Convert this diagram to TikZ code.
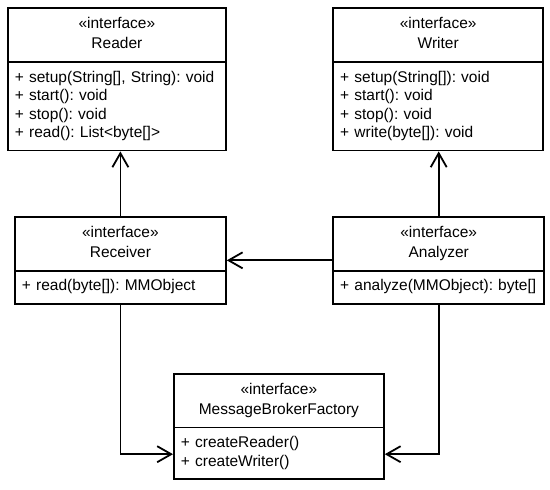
\documentclass[tikz,border=0pt]{standalone}
\usepackage{fontspec}
\setmainfont{Liberation Sans}
\usepackage{xcolor}
\usepackage{tikz}
\usetikzlibrary{shapes.multipart, arrows.meta, positioning}

\newcommand{\stereo}[1]{\centering\strut«interface»\\[2pt]#1\strut\par}

\begin{document}
\begin{tikzpicture}[>={Straight Barb[length=14pt, width=16pt]}, line width=1.8pt,
        iface/.style={rectangle split, rectangle split parts=2, draw,
            inner xsep=7pt, inner ysep=6.5pt, font=\fontsize{15.5}{18.5}\selectfont\frenchspacing},
        elbow/.style={to path={|- (\tikztotarget)}}]
        \useasboundingbox (0,0) rectangle (550pt,-490pt);

        \node[iface, text width=204pt, anchor=north west] (reader) at (7pt,-7pt)
            {\stereo{Reader}
             \nodepart{two}\raggedright\strut+ setup(String[], String): void\\+ start(): void\\+ stop(): void\\+ read(): List<byte[]>\strut};
        \node[iface, text width=196pt] (writer) [right=105.5pt of reader]
            {\stereo{Writer}
             \nodepart{two}\raggedright\strut+ setup(String[]): void\\+ start(): void\\+ stop(): void\\+ write(byte[]): void\strut};

        \node[iface, text width=197pt] (receiver) [below right=64.5pt and 7pt of reader.south west]
            {\stereo{Receiver}
             \nodepart{two}\raggedright\strut+ read(byte[]): MMObject\strut};
        \node[iface, text width=197pt] (analyzer) [below right=64.5pt and 0pt of writer.south west]
            {\stereo{Analyzer}
             \nodepart{two}\raggedright\strut+ analyze(MMObject): byte[]\strut};

        \node[iface, text width=196pt] (factory) [below right=68pt and 159pt of receiver.south west]
            {\stereo{MessageBrokerFactory}
             \nodepart{two}\raggedright\strut+ createReader()\\+ createWriter()\strut};

        \path[->]
        (receiver.north) edge (receiver.north |- reader.south)
        (analyzer.north) edge (analyzer.north |- writer.south)
        (analyzer) edge (receiver)
        (receiver.south) edge[elbow] ([yshift=26pt]factory.south west)
        (analyzer.south) edge[elbow] ([yshift=26pt]factory.south east);

    \end{tikzpicture}
\end{document}
